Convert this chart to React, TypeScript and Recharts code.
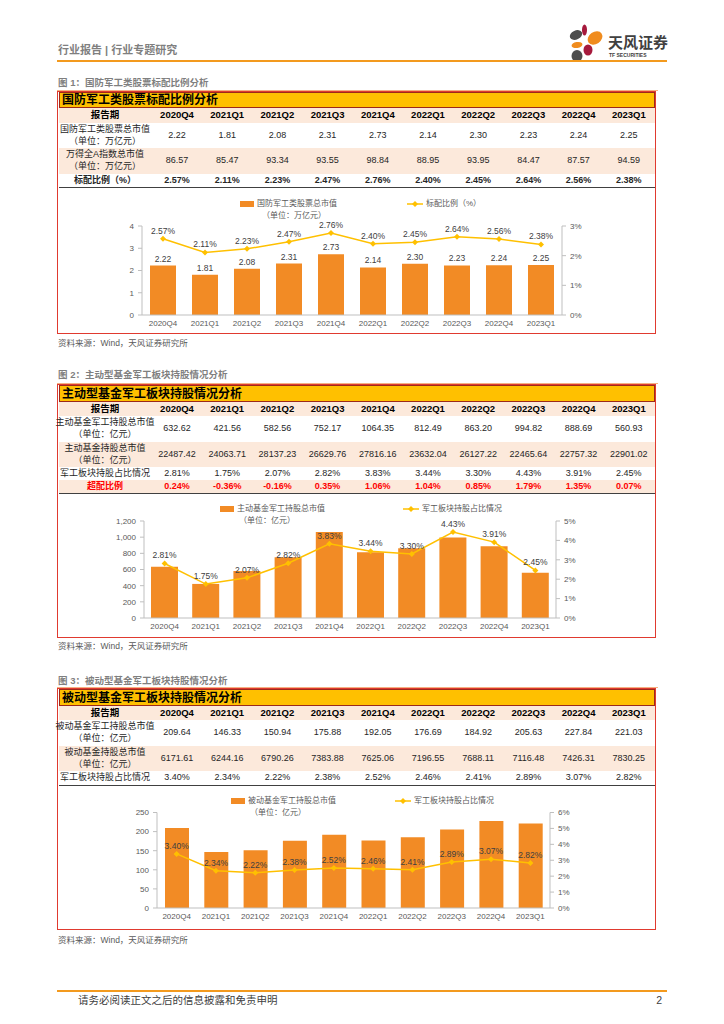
import React from 'react';
import { ComposedChart, Bar, Line, XAxis, YAxis, LabelList } from 'recharts';

const quarters = ['2020Q4', '2021Q1', '2021Q2', '2021Q3', '2021Q4', '2022Q1', '2022Q2', '2022Q3', '2022Q4', '2023Q1'];

// 图1 国防军工类股票标配比例
const defenseCap = [2.22, 1.81, 2.08, 2.31, 2.73, 2.14, 2.3, 2.23, 2.24, 2.25];
const windACap = [86.57, 85.47, 93.34, 93.55, 98.84, 88.95, 93.95, 84.47, 87.57, 94.59];
const standardRatio = [2.57, 2.11, 2.23, 2.47, 2.76, 2.4, 2.45, 2.64, 2.56, 2.38];

// 图2 主动型基金
const activeDefense = [632.62, 421.56, 582.56, 752.17, 1064.35, 812.49, 863.2, 994.82, 888.69, 560.93];
const activeTotal = [22487.42, 24063.71, 28137.23, 26629.76, 27816.16, 23632.04, 26127.22, 22465.64, 22757.32, 22901.02];
const activeShare = [2.81, 1.75, 2.07, 2.82, 3.83, 3.44, 3.3, 4.43, 3.91, 2.45];
const activeOver = [0.24, -0.36, -0.16, 0.35, 1.06, 1.04, 0.85, 1.79, 1.35, 0.07];

// 图3 被动型基金
const passiveDefense = [209.64, 146.33, 150.94, 175.88, 192.05, 176.69, 184.92, 205.63, 227.84, 221.03];
const passiveTotal = [6171.61, 6244.16, 6790.26, 7383.88, 7625.06, 7196.55, 7688.11, 7116.48, 7426.31, 7830.25];
const passiveShare = [3.4, 2.34, 2.22, 2.38, 2.52, 2.46, 2.41, 2.89, 3.07, 2.82];

const FONT = "'Liberation Sans', Arial, 'Noto Sans CJK SC', sans-serif";
const ORANGE = '#F28B25';
const GOLD = '#FFC000';
const PEACH = '#FCE9DB';
const RED = '#E03A2F';
const AXIS = '#BFBFBF';
const TICK = '#595959';

const f2 = (v: number) => v.toFixed(2);
const pct = (v: number) => v.toFixed(2) + '%';
const colX = (i: number) => 177 + i * 50.2;

const Txt = ({ x, y, size = 9, color = '#262626', weight = 400, align = 'left', children }: any) => (
  <div
    style={{
      position: 'absolute',
      left: x,
      top: y - size * 0.75,
      height: size * 1.5,
      lineHeight: `${size * 1.5}px`,
      fontSize: size,
      color,
      fontWeight: weight,
      whiteSpace: 'nowrap',
      transform: align === 'center' ? 'translateX(-50%)' : align === 'right' ? 'translateX(-100%)' : undefined,
    }}
  >
    {children}
  </div>
);

type Row = { label: string[]; values: string[]; top: number; bottom: number; bg?: string; bold?: boolean; color?: string };

const Figure = ({ caption, captionY, title, boxTop, titleBottom, boxBottom, headerBottom, rows, sourceY }: any) => {
  const tableBottom = rows[rows.length - 1].bottom;
  return (
    <>
      <Txt x={58} y={captionY} size={9.5} color="#7F7F7F" weight={700}>{caption}</Txt>
      <div style={{ position: 'absolute', left: 57, top: boxTop - 1, width: 601, height: 1, background: '#F4B183' }} />
      <div style={{ position: 'absolute', left: 57, top: boxTop, width: 599, height: boxBottom - boxTop, border: `1.5px solid ${RED}`, boxSizing: 'border-box' }} />
      <div style={{ position: 'absolute', left: 58.5, top: boxTop + 1, width: 596, height: titleBottom - boxTop - 1, background: GOLD, border: '1px solid #9C2A1A', boxSizing: 'border-box' }} />
      <Txt x={62} y={(boxTop + titleBottom) / 2 + 0.5} size={12} color="#000" weight={700}>{title}</Txt>
      <div style={{ position: 'absolute', left: 58.5, top: titleBottom, width: 596, height: headerBottom - titleBottom, background: PEACH }} />
      <Txt x={105} y={(titleBottom + headerBottom) / 2} size={9.5} weight={700} color="#000" align="center">报告期</Txt>
      {quarters.map((q, i) => (
        <Txt key={q} x={colX(i)} y={(titleBottom + headerBottom) / 2} size={9.5} weight={700} color="#000" align="center">{q}</Txt>
      ))}
      {rows.map((r: Row, ri: number) => {
        const mid = (r.top + r.bottom) / 2;
        return (
          <React.Fragment key={ri}>
            {r.bg && <div style={{ position: 'absolute', left: 58.5, top: r.top, width: 596, height: r.bottom - r.top, background: r.bg }} />}
            {r.label.map((l, li) => (
              <Txt key={li} x={105} y={r.label.length === 1 ? mid : mid + (li === 0 ? -6 : 6)} size={9} weight={r.bold ? 700 : 400} color={r.color || '#262626'} align="center">{l}</Txt>
            ))}
            {r.values.map((v, i) => (
              <Txt key={i} x={colX(i)} y={mid} size={9} weight={r.bold ? 700 : 400} color={r.color || '#262626'} align="center">{v}</Txt>
            ))}
          </React.Fragment>
        );
      })}
      <div style={{ position: 'absolute', left: 58.5, top: tableBottom - 0.5, width: 596, height: 1, background: '#404040' }} />
      <Txt x={58} y={sourceY} size={8.5} color="#595959">资料来源：Wind，天风证券研究所</Txt>
    </>
  );
};

const Diamond = (props: any) => {
  const { cx, cy, index } = props;
  if (cx == null || cy == null) return <g key={index} />;
  return <path key={index} d={`M${cx},${cy - 3}L${cx + 3},${cy}L${cx},${cy + 3}L${cx - 3},${cy}Z`} fill={GOLD} />;
};

const ComboChart = ({ top, height, data, margin, leftWidth, leftDomain, leftTicks, leftFmt, rightDomain, rightTicks, barSize, barLabels }: any) => (
  <div style={{ position: 'absolute', left: 58, top }}>
    <ComposedChart width={598} height={height} data={data} margin={margin}>
      <XAxis dataKey="q" interval={0} height={15} tickSize={3} tickMargin={2} tickLine={false} axisLine={{ stroke: AXIS }} tick={{ fontSize: 8, fill: TICK }} />
      <YAxis yAxisId="l" width={leftWidth} domain={leftDomain} ticks={leftTicks} tickFormatter={leftFmt} tickSize={4} tickMargin={4} axisLine={{ stroke: AXIS }} tickLine={{ stroke: AXIS }} tick={{ fontSize: 8, fill: TICK }} />
      <YAxis yAxisId="r" orientation="right" width={30} domain={rightDomain} ticks={rightTicks} tickFormatter={(v: number) => v + '%'} tickSize={4} tickMargin={4} axisLine={{ stroke: AXIS }} tickLine={{ stroke: AXIS }} tick={{ fontSize: 8, fill: TICK }} />
      <Bar yAxisId="l" dataKey="v" fill={ORANGE} barSize={barSize} isAnimationActive={false}>
        {barLabels && <LabelList dataKey="v" position="top" offset={4} formatter={(v: any) => f2(Number(v))} fontSize={8.5} fill="#404040" />}
      </Bar>
      <Line yAxisId="r" dataKey="r" stroke={GOLD} strokeWidth={1.5} dot={<Diamond />} activeDot={false} isAnimationActive={false}>
        <LabelList dataKey="r" position="top" offset={5} formatter={(v: any) => pct(Number(v))} fontSize={8.5} fill="#404040" />
      </Line>
    </ComposedChart>
  </div>
);

const ChartLegend = ({ y, barX, barText, unitX, unitText, lineX, lineText }: any) => (
  <>
    <div style={{ position: 'absolute', left: barX, top: y - 3, width: 14, height: 6, background: ORANGE }} />
    <Txt x={barX + 17} y={y} size={8} color={TICK}>{barText}</Txt>
    <Txt x={unitX} y={y + 12} size={8} color={TICK}>{unitText}</Txt>
    <svg style={{ position: 'absolute', left: lineX, top: y - 4 }} width={16} height={8}>
      <line x1={0} y1={4} x2={16} y2={4} stroke={GOLD} strokeWidth={1.5} />
      <path d="M8,1L11,4L8,7L5,4Z" fill={GOLD} />
    </svg>
    <Txt x={lineX + 19} y={y} size={8} color={TICK}>{lineText}</Txt>
  </>
);

const Logo = () => (
  <svg style={{ position: 'absolute', left: 560, top: 20 }} width={50} height={50}>
    <ellipse cx={16} cy={15} rx={6.5} ry={4.5} transform="rotate(-25 16 15)" fill="#4D4D4D" />
    <ellipse cx={24.5} cy={10} rx={2.5} ry={5.5} fill="#A6193C" />
    <ellipse cx={35} cy={18} rx={8} ry={6} transform="rotate(-35 35 18)" fill="#F08C1E" />
    <ellipse cx={17} cy={25} rx={5.5} ry={3} transform="rotate(-10 17 25)" fill="#F08C1E" />
    <ellipse cx={28} cy={30} rx={4.5} ry={5.5} fill="#A6193C" />
    <ellipse cx={17} cy={36} rx={5.5} ry={6} fill="#4D4D4D" />
  </svg>
);

const fig1Data = quarters.map((q, i) => ({ q, v: defenseCap[i], r: standardRatio[i] }));
const fig2Data = quarters.map((q, i) => ({ q, v: activeDefense[i], r: activeShare[i] }));
const fig3Data = quarters.map((q, i) => ({ q, v: passiveDefense[i], r: passiveShare[i] }));

export default function App() {
  return (
    <div style={{ position: 'absolute', left: 0, top: 0, width: 724, height: 1024, background: '#fff', fontFamily: FONT, overflow: 'hidden' }}>
      {/* 页眉 */}
      <Txt x={58} y={50.5} size={11} color="#7F7F7F" weight={700}>行业报告 | 行业专题研究</Txt>
      <Logo />
      <Txt x={608} y={43} size={15} color="#404040" weight={700}>天风证券</Txt>
      <Txt x={609} y={55.5} size={5} color="#404040" weight={700}>TF SECURITIES</Txt>
      <div style={{ position: 'absolute', left: 57, top: 60, width: 610, height: 2, background: '#F39A1E' }} />

      {/* 图1 */}
      <Figure
        caption="图 1：国防军工类股票标配比例分析"
        captionY={82.7}
        title="国防军工类股票标配比例分析"
        boxTop={91}
        titleBottom={108}
        headerBottom={123}
        boxBottom={334}
        sourceY={343.3}
        rows={[
          { label: ['国防军工类股票总市值', '（单位：万亿元）'], values: defenseCap.map(f2), top: 123, bottom: 148 },
          { label: ['万得全A指数总市值', '（单位：万亿元）'], values: windACap.map(f2), top: 148, bottom: 174, bg: PEACH },
          { label: ['标配比例（%）'], values: standardRatio.map(pct), top: 174, bottom: 187, bold: true },
        ]}
      />
      <ComboChart
        top={187}
        height={147}
        data={fig1Data}
        margin={{ top: 39, right: 64, bottom: 4, left: 54 }}
        leftWidth={30}
        leftDomain={[0, 4]}
        leftTicks={[0, 1, 2, 3, 4]}
        rightDomain={[0, 3]}
        rightTicks={[0, 1, 2, 3]}
        barSize={26}
        barLabels
      />
      <ChartLegend y={204} barX={240} barText="国防军工类股票总市值" unitX={262} unitText="（单位：万亿元）" lineX={407} lineText="标配比例（%）" />

      {/* 图2 */}
      <Figure
        caption="图 2：主动型基金军工板块持股情况分析"
        captionY={375}
        title="主动型基金军工板块持股情况分析"
        boxTop={384}
        titleBottom={402}
        headerBottom={416}
        boxBottom={638}
        sourceY={646.5}
        rows={[
          { label: ['主动基金军工持股总市值', '（单位：亿元）'], values: activeDefense.map(f2), top: 416, bottom: 442 },
          { label: ['主动基金持股总市值', '（单位：亿元）'], values: activeTotal.map(f2), top: 442, bottom: 467, bg: PEACH },
          { label: ['军工板块持股占比情况'], values: activeShare.map(pct), top: 467, bottom: 480 },
          { label: ['超配比例'], values: activeOver.map(pct), top: 480, bottom: 493, bg: PEACH, bold: true, color: '#FF0000' },
        ]}
      />
      <ComboChart
        top={493}
        height={145}
        data={fig2Data}
        margin={{ top: 28, right: 70, bottom: 5, left: 50 }}
        leftWidth={36}
        leftDomain={[0, 1200]}
        leftTicks={[0, 200, 400, 600, 800, 1000, 1200]}
        leftFmt={(v: number) => v.toLocaleString('en-US')}
        rightDomain={[0, 5]}
        rightTicks={[0, 1, 2, 3, 4, 5]}
        barSize={27}
      />
      <ChartLegend y={509} barX={220} barText="主动基金军工持股总市值" unitX={239} unitText="（单位：亿元）" lineX={403} lineText="军工板块持股占比情况" />

      {/* 图3 */}
      <Figure
        caption="图 3：被动型基金军工板块持股情况分析"
        captionY={680.7}
        title="被动型基金军工板块持股情况分析"
        boxTop={688}
        titleBottom={706}
        headerBottom={720}
        boxBottom={930}
        sourceY={940}
        rows={[
          { label: ['被动基金军工持股总市值', '（单位：亿元）'], values: passiveDefense.map(f2), top: 720, bottom: 746 },
          { label: ['被动基金持股总市值', '（单位：亿元）'], values: passiveTotal.map(f2), top: 746, bottom: 771, bg: PEACH },
          { label: ['军工板块持股占比情况'], values: passiveShare.map(pct), top: 771, bottom: 785 },
        ]}
      />
      <ComboChart
        top={785}
        height={145}
        data={fig3Data}
        margin={{ top: 27.5, right: 76, bottom: 7, left: 69 }}
        leftWidth={30}
        leftDomain={[0, 250]}
        leftTicks={[0, 50, 100, 150, 200, 250]}
        rightDomain={[0, 6]}
        rightTicks={[0, 1, 2, 3, 4, 5, 6]}
        barSize={24}
      />
      <ChartLegend y={801} barX={231} barText="被动基金军工持股总市值" unitX={250} unitText="（单位：亿元）" lineX={395} lineText="军工板块持股占比情况" />

      {/* 页脚 */}
      <div style={{ position: 'absolute', left: 57, top: 990, width: 610, height: 2, background: '#F39A1E' }} />
      <Txt x={78} y={1001} size={10.5} color="#404040">请务必阅读正文之后的信息披露和免责申明</Txt>
      <Txt x={662} y={1001} size={10.5} color="#404040" align="right">2</Txt>
    </div>
  );
}
